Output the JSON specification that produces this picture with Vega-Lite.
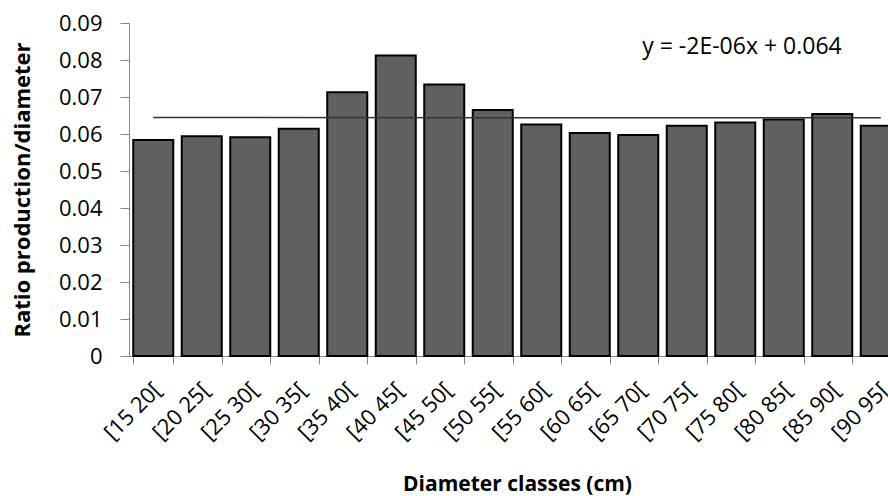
{
  "$schema": "https://vega.github.io/schema/vega-lite/v6.json",
  "autosize": "none",
  "width": 759,
  "height": 333,
  "padding": {"left": 129, "top": 23, "right": 0, "bottom": 140},
  "background": "white",
  "config": {"view": {"stroke": null}, "font": "Open Sans"},
  "datasets": {
    "bars": [
      {"class": "[15 20[", "ratio": 0.0584},
      {"class": "[20 25[", "ratio": 0.0594},
      {"class": "[25 30[", "ratio": 0.0591},
      {"class": "[30 35[", "ratio": 0.0614},
      {"class": "[35 40[", "ratio": 0.0713},
      {"class": "[40 45[", "ratio": 0.0812},
      {"class": "[45 50[", "ratio": 0.0734},
      {"class": "[50 55[", "ratio": 0.0665},
      {"class": "[55 60[", "ratio": 0.0626},
      {"class": "[60 65[", "ratio": 0.0603},
      {"class": "[65 70[", "ratio": 0.0597},
      {"class": "[70 75[", "ratio": 0.0622},
      {"class": "[75 80[", "ratio": 0.0631},
      {"class": "[80 85[", "ratio": 0.0639},
      {"class": "[85 90[", "ratio": 0.0654},
      {"class": "[90 95[", "ratio": 0.0622}
    ],
    "trend": [
      {"class": "[15 20[", "ratio": 0.06443},
      {"class": "[90 95[", "ratio": 0.0644}
    ],
    "eq": [
      {"class": "[65 70[", "ratio": 0.0835, "label": "y = -2E-06x + 0.064"}
    ]
  },
  "encoding": {
    "x": {
      "field": "class", "type": "nominal", "sort": null,
      "scale": {"range": [0, 776], "paddingInner": 0.175, "paddingOuter": 0.0875},
      "axis": {
        "title": "Diameter classes (cm)",
        "titleFont": "Open Sans", "titleFontSize": 21, "titleFontWeight": "bold", "titleColor": "#000000",
        "titlePadding": 30,
        "labelAngle": -45, "labelAlign": "right", "labelBaseline": "middle",
        "labelFont": "Open Sans", "labelFontSize": 22, "labelColor": "#000000",
        "labelOffset": 4, "labelPadding": 22,
        "tickBand": "extent", "tickSize": 8, "tickColor": "#868686",
        "domainColor": "#868686", "labelOverlap": false
      }
    },
    "y": {
      "field": "ratio", "type": "quantitative",
      "scale": {"domain": [0, 0.09], "nice": false},
      "axis": {
        "title": "Ratio production/diameter",
        "titleFont": "Open Sans", "titleFontSize": 22, "titleFontWeight": "bold", "titleColor": "#000000",
        "titlePadding": 24,
        "values": [0, 0.01, 0.02, 0.03, 0.04, 0.05, 0.06, 0.07, 0.08, 0.09],
        "labelExpr": "datum.value == 0 ? '0' : format(datum.value, '.2f')",
        "labelFont": "Open Sans", "labelFontSize": 22, "labelColor": "#000000",
        "labelOverlap": false, "labelFlush": false,
        "labelPadding": 18, "tickSize": 9, "tickColor": "#868686",
        "domainColor": "#868686", "grid": false
      }
    }
  },
  "layer": [
    {
      "data": {"name": "bars"},
      "mark": {"type": "bar", "fill": "#606060", "stroke": "#000000", "strokeWidth": 2}
    },
    {
      "data": {"name": "trend"},
      "mark": {"type": "line", "color": "#333333", "strokeWidth": 1.5}
    },
    {
      "data": {"name": "eq"},
      "mark": {"type": "text", "align": "left", "baseline": "middle", "dx": 4, "font": "Open Sans", "fontSize": 23, "color": "#000000"},
      "encoding": {
        "text": {"field": "label"}
      }
    }
  ]
}
